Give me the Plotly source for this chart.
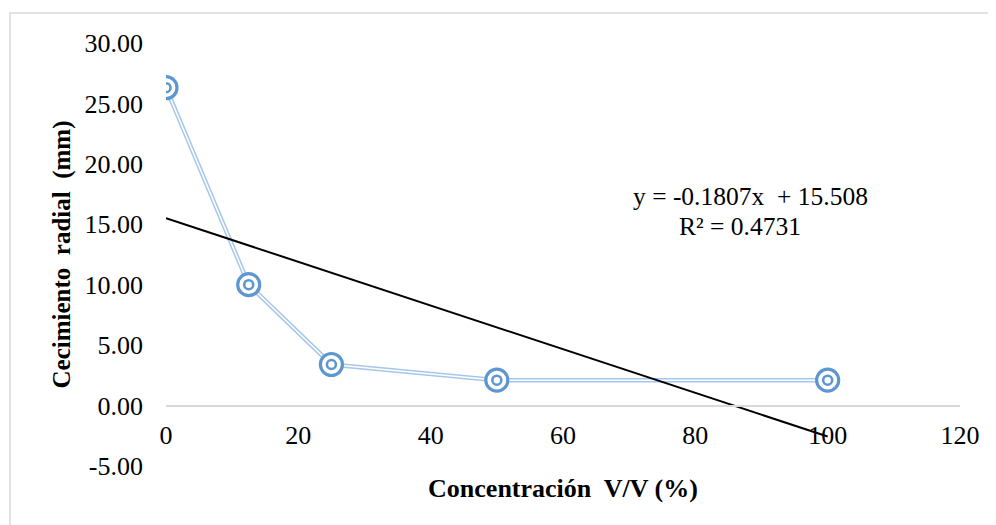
import plotly.graph_objects as go
import numpy as np

# Data
concentration = [0, 12.5, 25, 50, 100]
growth = [26.3, 10.0, 3.4, 2.1, 2.1]
trend_slope = -0.1807
trend_intercept = 15.508
r_squared = 0.4731
x_ticks = [0, 20, 40, 60, 80, 100, 120]
y_ticks = [-5, 0, 5, 10, 15, 20, 25, 30]
y_tick_labels = ["-5.00", "0.00", "5.00", "10.00", "15.00", "20.00", "25.00", "30.00"]

FONT = "Liberation Serif, Times New Roman, serif"
LINE_BLUE = "#A7C7EA"
MARK_BLUE = "#5E97D0"

# page body has an 8px default margin; figure is sized/offset to compensate
OFF = 8
PL, PT, PR, PB = 166, 43, 960, 466   # plot area in window pixels
W, H = 996 - OFF, 525 - OFF
L, T = PL - OFF, PT - OFF
R = W - (PR - OFF)
B = H - (PB - OFF)
PW, PH = PR - PL, PB - PT

fig = go.Figure()

# double line: wide blue under thin white
fig.add_trace(go.Scatter(x=concentration, y=growth, mode="lines",
                         line=dict(color=LINE_BLUE, width=4.5), hoverinfo="skip"))
fig.add_trace(go.Scatter(x=concentration, y=growth, mode="lines",
                         line=dict(color="white", width=1.5), hoverinfo="skip"))

# trendline from the stated equation
tx = np.array([min(concentration), max(concentration)])
ty = trend_slope * tx + trend_intercept
fig.add_trace(go.Scatter(x=tx, y=ty, mode="lines",
                         line=dict(color="black", width=2), hoverinfo="skip"))

# markers: outer ring + inner ring
fig.add_trace(go.Scatter(x=concentration, y=growth, mode="markers",
                         marker=dict(symbol="circle", size=22, color="white",
                                     line=dict(color=MARK_BLUE, width=3.2))))
fig.add_trace(go.Scatter(x=concentration, y=growth, mode="markers",
                         marker=dict(symbol="circle", size=9, color="white",
                                     line=dict(color=MARK_BLUE, width=2.6))))

fig.update_layout(
    width=W, height=H,
    margin=dict(l=L, r=R, t=T, b=B, autoexpand=False),
    paper_bgcolor="white", plot_bgcolor="white",
    showlegend=False,
    font=dict(family=FONT, size=26, color="black"),
    xaxis=dict(range=[0, 120], tickvals=x_ticks, ticktext=[str(v) for v in x_ticks],
               showgrid=False, zeroline=False, showline=True, linecolor="#D9D9D9",
               linewidth=2, anchor="free", position=5/35, ticks="",
               ticklabelstandoff=6, automargin=False,
               title=dict(text="<b>Concentración  V/V (%)</b>", font=dict(size=26),
                          standoff=29)),
    yaxis=dict(range=[-5, 30], tickvals=y_ticks, ticktext=y_tick_labels,
               showgrid=False, zeroline=False, showline=False, ticks="",
               ticklabelstandoff=22, automargin=False,
               title=dict(text="<b>Cecimiento  radial  (mm)</b>", font=dict(size=25),
                          standoff=6)),
)

# equation labels
fig.add_annotation(x=(750 - PL) / PW, y=(PB - 196) / PH, xref="paper", yref="paper",
                   xanchor="center", yanchor="middle",
                   text=f"y = {trend_slope}x  + {trend_intercept}", showarrow=False,
                   font=dict(size=25.5))
fig.add_annotation(x=(740 - PL) / PW, y=(PB - 227) / PH, xref="paper", yref="paper",
                   xanchor="center", yanchor="middle",
                   text=f"R² = {r_squared}", showarrow=False, font=dict(size=25.5))

# outer chart border
fig.add_shape(type="rect", xref="paper", yref="paper",
              x0=(10 - PL) / PW, x1=(1005 - PL) / PW,
              y0=(PB - 535) / PH, y1=(PB - 13) / PH,
              line=dict(color="#D9D9D9", width=1.5), fillcolor="rgba(0,0,0,0)", layer="below")

fig.write_html("out.html")
